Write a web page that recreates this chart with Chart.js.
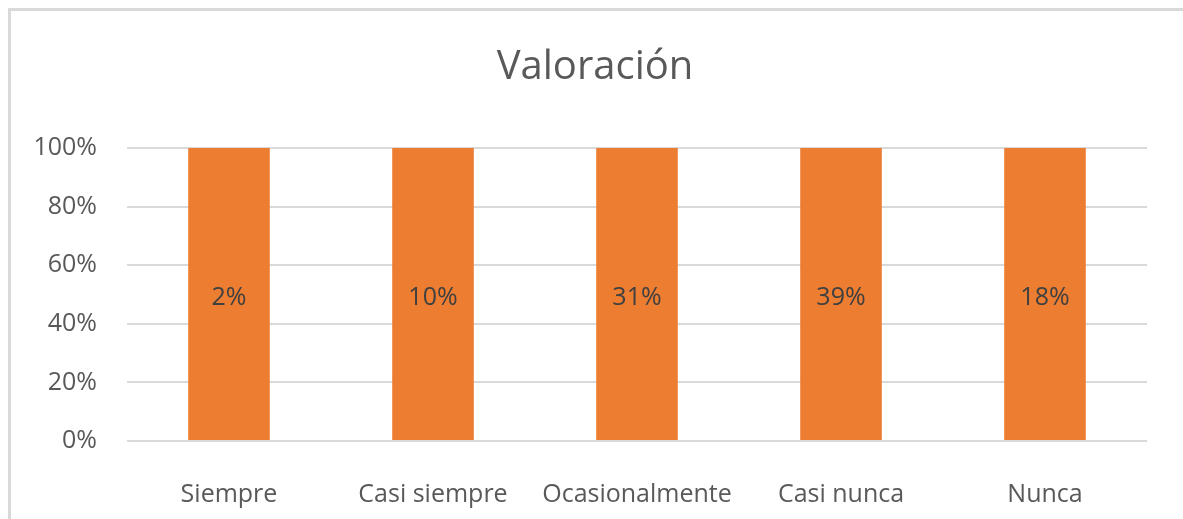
<!DOCTYPE html>
<html>
<head>
<meta charset="utf-8">
<script src="https://cdn.jsdelivr.net/npm/chart.js@4.4.0/dist/chart.umd.min.js"></script>
<style>
    html, body { margin: 0; padding: 0; background: #ffffff; overflow: hidden; }
    #frame {
        position: absolute; left: 8px; top: 8px; width: 1300px; height: 700px;
        border-left: 3px solid #d9d9d9; border-top: 3px solid #d9d9d9;
    }
    #valoracionChart { position: absolute; left: 0; top: 0; }
</style>
</head>
<body>
<div id="frame"></div>
<canvas id="valoracionChart" width="1183" height="519"></canvas>
<script>
// Categorías y valores
const categorias = ['Siempre', 'Casi siempre', 'Ocasionalmente', 'Casi nunca', 'Nunca'];
const valoracion = [2, 10, 31, 39, 18];          // etiquetas de datos (%)
const columnaApilada = [100, 100, 100, 100, 100]; // columna 100% apilada, una sola serie
const ticksY = [0, 20, 40, 60, 80, 100];
const titulo = 'Valoración';

const COLOR_TEXTO = '#595959';
const FUENTE = "'Open Sans', sans-serif";

// Título centrado sobre todo el marco (no sólo sobre el área del gráfico)
const tituloMarco = {
    id: 'tituloMarco',
    afterDraw(chart) {
        const ctx = chart.ctx;
        ctx.save();
        ctx.font = `40px ${FUENTE}`;
        ctx.fillStyle = COLOR_TEXTO;
        ctx.textAlign = 'center';
        ctx.textBaseline = 'middle';
        ctx.fillText(titulo, 595, 68);
        ctx.restore();
    }
};

// Etiquetas de datos centradas en cada columna
const etiquetasDatos = {
    id: 'etiquetasDatos',
    afterDatasetsDraw(chart) {
        const ctx = chart.ctx;
        const meta = chart.getDatasetMeta(0);
        ctx.save();
        ctx.font = `25px ${FUENTE}`;
        ctx.fillStyle = '#404040';
        ctx.textAlign = 'center';
        ctx.textBaseline = 'middle';
        meta.data.forEach((bar, i) => {
            const mid = (bar.y + bar.base) / 2;
            ctx.fillText(valoracion[i] + '%', bar.x, mid + 4);
        });
        ctx.restore();
    }
};

new Chart(document.getElementById('valoracionChart').getContext('2d'), {
    type: 'bar',
    data: {
        labels: categorias,
        datasets: [{
            label: 'Valoración',
            data: columnaApilada,
            backgroundColor: '#ED7D31',
            borderWidth: 0,
            barPercentage: 0.4,
            categoryPercentage: 1
        }]
    },
    options: {
        responsive: false,
        animation: false,
        layout: { padding: { left: 0, right: 36, top: 148, bottom: 0 } },
        plugins: {
            legend: { display: false },
            tooltip: { enabled: false },
            title: { display: false }
        },
        scales: {
            x: {
                grid: { display: false },
                border: { display: false },
                ticks: { color: COLOR_TEXTO, font: { family: FUENTE, size: 25 }, padding: 31, maxRotation: 0 },
                afterFit: (s) => { s.height = 78; }
            },
            y: {
                min: 0, max: 100,
                afterBuildTicks: (s) => { s.ticks = ticksY.map(v => ({ value: v })); },
                grid: { color: '#d9d9d9', lineWidth: 2, drawTicks: false },
                border: { display: false },
                ticks: { color: COLOR_TEXTO, font: { family: FUENTE, size: 25 }, padding: 30, callback: (v) => v + '%' },
                afterFit: (s) => { s.width = 127; }
            }
        }
    },
    plugins: [etiquetasDatos, tituloMarco]
});
</script>
</body>
</html>
